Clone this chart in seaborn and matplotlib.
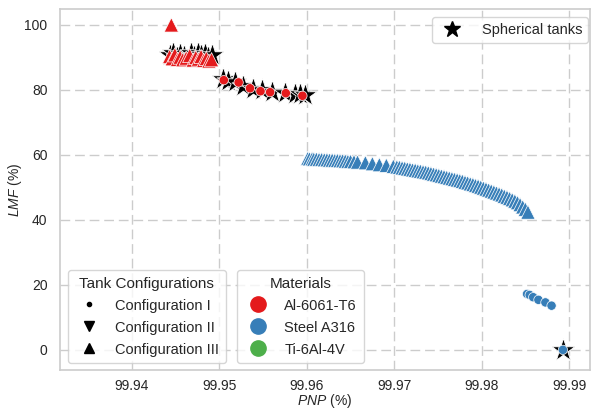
import numpy as np
import pandas as pd
import matplotlib
matplotlib.use("Agg")
import matplotlib.pyplot as plt
from matplotlib.lines import Line2D
import seaborn as sns

# ---------------- data ----------------
materials = ["Al-6061-T6", "Steel A316", "Ti-6Al-4V"]
configurations = ["Configuration I", "Configuration II", "Configuration III"]

# Al-6061-T6, Configuration III
al_III_x = [99.9445, 99.9443, 99.9446, 99.9449, 99.9452, 99.9455, 99.9458, 99.9462, 99.9466,
            99.9470, 99.9473, 99.9476, 99.9479, 99.9482, 99.9485, 99.9488, 99.9491]
al_III_y = [100.0, 90.3, 89.6, 90.8, 89.4, 90.1, 89.3, 89.8, 90.6,
            89.2, 90.0, 89.5, 90.3, 89.1, 89.7, 88.9, 89.3]

# Al-6061-T6, Configuration I
al_I_x = [99.9505, 99.9522, 99.9535, 99.9547, 99.9558, 99.9576, 99.9595]
al_I_y = [83.0, 82.3, 80.5, 79.6, 79.3, 79.0, 78.2]

# Steel A316, Configuration III
st_III_x = [99.9601, 99.9603, 99.9606, 99.9608, 99.9611, 99.9614, 99.9617, 99.9620, 99.9623, 99.9626,
            99.9629, 99.9632, 99.9635, 99.9638, 99.9641, 99.9644, 99.9647, 99.9650, 99.9654, 99.9658,
            99.9667, 99.9675, 99.9683, 99.9691, 99.9699,
            99.9703, 99.9706, 99.9709, 99.9712, 99.9715, 99.9718, 99.9721, 99.9724, 99.9727, 99.9730,
            99.9733, 99.9736, 99.9739, 99.9742, 99.9745, 99.9748, 99.9751, 99.9754, 99.9757, 99.9760,
            99.9763, 99.9766, 99.9769, 99.9772, 99.9775, 99.9778, 99.9781, 99.9784, 99.9787, 99.9790,
            99.9793, 99.9796, 99.9799, 99.9802, 99.9805, 99.9808, 99.9811, 99.9814, 99.9817, 99.9820,
            99.9823, 99.9826, 99.9829, 99.9832, 99.9835, 99.9838, 99.9841, 99.9844, 99.9847, 99.9850, 99.9853]
st_III_y = [58.9, 58.8, 58.8, 58.7, 58.7, 58.6, 58.6, 58.5, 58.5, 58.4,
            58.4, 58.3, 58.3, 58.2, 58.2, 58.1, 58.0, 58.0, 57.9, 57.8,
            57.6, 57.3, 57.0, 56.8, 56.5,
            56.3, 56.2, 56.0, 55.9, 55.7, 55.6, 55.4, 55.3, 55.1, 55.0,
            54.8, 54.7, 54.5, 54.3, 54.1, 53.9, 53.7, 53.5, 53.3, 53.1,
            52.9, 52.7, 52.5, 52.3, 52.1, 51.9, 51.6, 51.4, 51.1, 50.9,
            50.6, 50.4, 50.1, 49.8, 49.5, 49.2, 48.9, 48.6, 48.3, 48.0,
            47.7, 47.3, 47.0, 46.6, 46.2, 45.8, 45.3, 44.7, 44.0, 43.3, 42.4]

# Steel A316, Configuration I
st_I_x = [99.9852, 99.9855, 99.9859, 99.9865, 99.9873, 99.9880, 99.9893]
st_I_y = [17.2, 16.9, 16.2, 15.4, 14.6, 13.6, 0.0]

# Spherical tanks (highlighted with stars)
sph_x = [99.9443, 99.9447, 99.9451, 99.9455, 99.9459, 99.9467, 99.9471, 99.9475, 99.9479, 99.9483, 99.9487, 99.9491,
         99.9504, 99.9510, 99.9518, 99.9527, 99.9538, 99.9549, 99.9560, 99.9575, 99.9587, 99.9592, 99.9598,
         99.9893]
sph_y = [90.6, 91.3, 90.2, 91.2, 90.4, 91.3, 90.5, 91.4, 90.7, 91.0, 90.2, 90.6,
         83.5, 82.6, 82.3, 81.2, 80.4, 79.9, 79.4, 79.2, 78.8, 78.6, 78.4,
         0.0]

xtick_vals = [99.94, 99.95, 99.96, 99.97, 99.98, 99.99]
xtick_labels = ["99.94", "99.95", "99.96", "99.97", "99.98", "99.99"]
ytick_vals = [0, 20, 40, 60, 80, 100]

# ---------------- table ----------------
rows = []
for x, y in zip(al_III_x, al_III_y):
    rows.append((x, y, "Al-6061-T6", "Configuration III"))
for x, y in zip(al_I_x, al_I_y):
    rows.append((x, y, "Al-6061-T6", "Configuration I"))
for x, y in zip(st_III_x, st_III_y):
    rows.append((x, y, "Steel A316", "Configuration III"))
for x, y in zip(st_I_x, st_I_y):
    rows.append((x, y, "Steel A316", "Configuration I"))
df = pd.DataFrame(rows, columns=["PNP", "LMF", "Material", "Config"])
sph = pd.DataFrame({"PNP": sph_x, "LMF": sph_y})

# ---------------- style ----------------
sns.set_theme(style="whitegrid")
plt.rcParams["font.family"] = ["Liberation Sans", "DejaVu Sans"]
plt.rcParams["mathtext.fontset"] = "custom"
plt.rcParams["mathtext.it"] = "Liberation Sans:italic"
plt.rcParams["mathtext.rm"] = "Liberation Sans"

palette = dict(zip(materials, ["#e41a1c", "#377eb8", "#4daf4a"]))
markers = dict(zip(configurations, ["o", "v", "^"]))

fig = plt.figure(figsize=(5.92, 4.09), dpi=100)
ax = fig.add_axes([60 / 592, 39 / 409, 530 / 592, 361 / 409])

# spherical tanks: stars underneath
sns.scatterplot(data=sph, x="PNP", y="LMF", marker="*", color="black", s=300,
                edgecolor="white", linewidth=0.6, ax=ax, legend=False, zorder=2)

tri = df[df["Config"] != "Configuration I"]
dots = df[df["Config"] == "Configuration I"]
sns.scatterplot(data=tri, x="PNP", y="LMF", hue="Material", style="Config",
                palette=palette, markers=markers, s=105, edgecolor="white",
                linewidth=0.5, ax=ax, legend=False, zorder=3)
sns.scatterplot(data=dots, x="PNP", y="LMF", hue="Material", style="Config",
                palette=palette, markers=markers, s=45, edgecolor="white",
                linewidth=0.5, ax=ax, legend=False, zorder=3)

ax.set_xlim(99.93176, 99.9924)
ax.set_ylim(-6.2, 104.9)
ax.set_xticks(xtick_vals)
ax.set_xticklabels(xtick_labels)
ax.set_yticks(ytick_vals)
ax.tick_params(axis="x", labelsize=10, colors="#262626", pad=0.3)
ax.tick_params(axis="y", labelsize=10, colors="#262626", pad=3)
ax.grid(True, color="#cccccc", linestyle=(0, (7, 3.5)), linewidth=1.0)
for sp in ax.spines.values():
    sp.set_color("#cccccc")
    sp.set_linewidth(1.2)

ax.set_xlabel(r"$\it{PNP}$ (%)", fontsize=10, color="#262626", labelpad=-0.3)
ax.set_ylabel(r"$\it{LMF}$ (%)", fontsize=10, color="#262626", labelpad=0)

# legends
conf_handles = [Line2D([], [], linestyle="none", marker=m, color="black", markersize=ms)
                for m, ms in zip([".", "v", "^"], [6, 7, 7])]
leg1 = ax.legend(conf_handles, configurations, title="Tank Configurations",
                 loc="lower left", bbox_to_anchor=(0.015, 0.019), borderaxespad=0,
                 fontsize=10.5, title_fontsize=11, frameon=True, handletextpad=0.8,
                 labelspacing=0.55, borderpad=0.45)
ax.add_artist(leg1)

mat_handles = [Line2D([], [], linestyle="none", marker="o", color=palette[m],
                      markersize=11) for m in materials]
leg2 = ax.legend(mat_handles, materials, title="Materials",
                 loc="lower left", bbox_to_anchor=(0.334, 0.019), borderaxespad=0,
                 fontsize=10.5, title_fontsize=11, frameon=True, handletextpad=0.8,
                 labelspacing=0.55, borderpad=0.45)
ax.add_artist(leg2)

sph_handle = [Line2D([], [], linestyle="none", marker="*", color="black", markersize=12)]
leg3 = ax.legend(sph_handle, ["Spherical tanks"], loc="upper right",
                 bbox_to_anchor=(0.996, 0.977), borderaxespad=0,
                 fontsize=10.5, frameon=True, handletextpad=1.0, borderpad=0.4)

for lg in (leg1, leg2, leg3):
    for t in lg.get_texts():
        t.set_color("#262626")
    if lg.get_title() is not None:
        lg.get_title().set_color("#262626")

fig.savefig("out.png", dpi=100)
